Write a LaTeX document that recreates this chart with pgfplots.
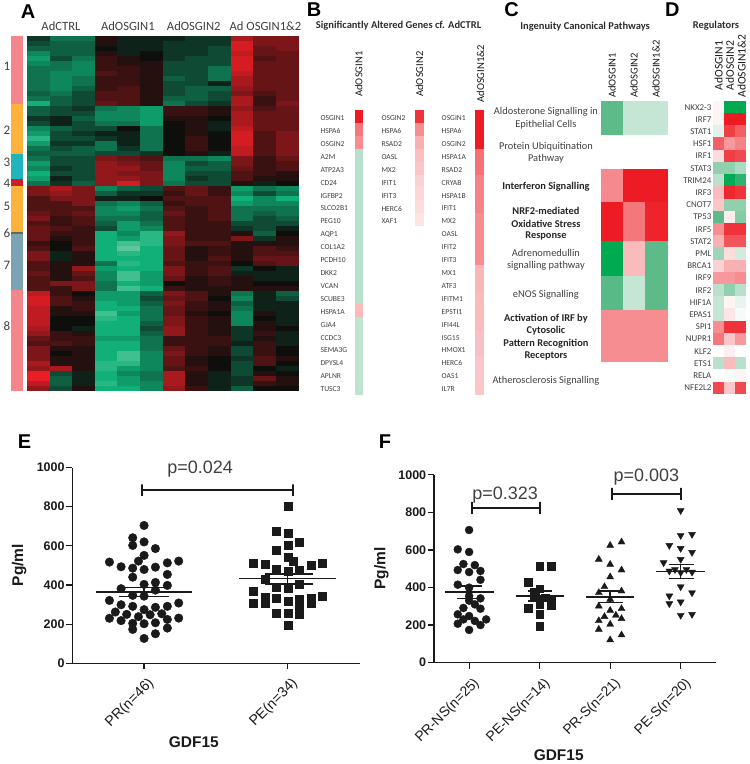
\documentclass[border=0pt]{standalone}
\usepackage{pgfplots}
\usepackage{pgfplotstable}
\usepackage{fontspec}
\pgfplotsset{compat=1.18}
\setmainfont{Carlito}
\newfontfamily\lib{Liberation Sans}
\newcommand{\fs}[1]{\fontsize{#1}{#1}\selectfont}
\definecolor{gtxt}{HTML}{404040}
\definecolor{axc}{HTML}{1A1A1A}
\pgfplotsset{
  colormap={rg}{rgb255(0pt)=(90,200,155); rgb255(3pt)=(16,176,120); rgb255(11pt)=(14,14,12); rgb255(21pt)=(235,30,38)},
  colormap={gwr}{rgb255(0pt)=(0,170,80); rgb255(8pt)=(93,187,138); rgb255(16pt)=(197,229,213); rgb255(20pt)=(255,255,255); rgb255(40pt)=(237,28,36)},
  heat/.style 2 args={only marks, scatter, point meta=explicit, mark=square*, mark size=1pt,
     scatter/use mapped color={draw opacity=0, fill=mapped color},
     mark options={xscale=#1,yscale=#2,line width=0pt}, forget plot},
  panel/.style={scale only axis, hide axis, y dir=reverse, clip=false},
  gr/.style={scale only axis, clip=false, axis x line=bottom, axis y line=left,
     axis line style={-, color=axc, line width=1.4pt}, tick style={color=axc, line width=1.2pt},
     major tick length=6pt, ymin=0, ymax=1000, ytick={0,200,400,600,800,1000},
     tick align=outside, xtick pos=bottom, ytick pos=left,
     /pgf/number format/assume math mode=true, /pgf/number format/1000 sep={},
     yticklabel style={font=\lib\bfseries\fs{12.5}, color=axc, inner sep=1.5pt},
     xticklabel style={font=\lib\fs{14.3}, color=axc, rotate=45, anchor=north east, inner sep=1pt, xshift=-2pt, yshift=-6pt},
     label style={font=\lib\bfseries\fs{15.5}, color=axc}},
  lin/.style={color=axc, line width=1.4pt, forget plot, no marks},
  brk/.style={color=axc, line width=1.8pt, forget plot, no marks},
}
\pgfplotstableread{
r c0 c1 c2 c3 c4 c5 c6 c7 c8 c9 c10 c11
1 -2 -5 -5 1 -1 -1 -1 -2 -2 7 5 5
2 -3 -4 -4 1 -1 -1 -2 -2 -2 9 5 5
3 -4 -4 -4 0 -1 -1 -2 -2 -3 9 4 5
4 -6 -4 -4 1 -1 0 -2 -2 -3 8 4 4
5 -7 -3 -5 2 1 0 -2 -3 -3 9 3 4
6 -6 -5 -6 2 1 1 -3 -3 -3 9 4 4
7 -5 -5 -6 2 2 1 -3 -3 -5 9 4 4
8 -5 -6 -6 3 2 1 -3 -3 -5 8 4 4
9 -5 -6 -5 2 2 1 -4 -3 -5 7 4 4
10 -5 -6 -5 2 2 1 -3 -3 -1 7 4 4
11 -5 -6 -4 2 3 1 -3 -4 -4 6 4 4
12 -4 -5 -3 3 3 1 -3 -4 -3 5 3 4
13 -5 -4 -3 3 3 1 -4 -4 -3 7 2 4
14 -8 -4 -3 4 3 1 -5 -3 -2 7 2 5
15 -4 -3 -2 -5 -6 -7 2 2 1 6 3 4
16 -4 -3 -3 -6 -6 -7 2 2 1 7 4 4
17 -2 -1 -4 -6 -6 -7 1 1 0 7 4 4
18 -3 -1 -3 -5 -5 -7 0 1 -1 7 4 4
19 -6 -4 -3 -3 0 -5 0 1 -1 8 4 4
20 -7 -3 -2 -1 -1 -5 0 1 0 9 3 5
21 -9 -3 -3 -2 -1 -5 0 2 0 9 3 5
22 -7 -2 -2 -5 -1 -5 0 2 0 9 3 5
23 -5 -3 -4 -5 -2 -5 0 2 0 8 3 5
24 -4 -4 -4 -3 -3 -2 0 1 -1 8 3 5
25 -5 -3 -3 5 4 3 -5 -5 -6 5 2 4
26 -7 -3 -3 6 5 4 -6 -3 -4 5 2 3
27 -6 -2 -3 6 6 4 -6 -4 -4 4 2 3
28 -8 -3 -3 6 5 5 -6 -3 -3 3 2 1
29 -7 -1 -3 6 6 5 -6 -2 -3 3 1 1
30 -5 -2 -4 6 9 5 -5 -3 -3 1 -1 0
31 5 7 5 -6 -4 -3 3 4 2 -7 -5 -6
32 5 6 5 -4 -2 -2 2 4 2 -6 -3 -5
33 3 5 5 -1 -1 0 3 3 3 -8 -6 -8
34 3 3 5 -5 -6 -4 2 3 3 -7 -6 -6
35 3 3 3 -6 -7 -5 3 2 3 -5 -5 -5
36 4 3 4 -6 -6 -4 4 2 3 -5 -4 -5
37 5 2 3 -5 -5 -4 3 2 3 -5 -3 -4
38 3 2 3 -4 -7 -5 3 2 2 -3 -3 -3
39 4 3 2 -3 -7 -6 3 2 2 -2 -3 -1
40 4 2 2 -8 -6 -9 6 2 2 1 -4 0
41 4 1 2 -8 -7 -9 5 2 2 5 -2 1
42 2 0 2 -8 -10 -9 5 3 3 1 1 1
43 3 0 3 -8 -11 -8 4 1 2 1 3 2
44 5 -1 1 -8 -9 -8 4 1 2 1 3 3
45 5 -1 1 -8 -8 -8 4 1 3 1 4 4
46 3 1 1 -5 -9 -8 3 2 2 0 3 4
47 3 1 6 -7 -8 -8 5 2 3 -2 0 -1
48 4 1 4 -6 -10 -7 5 2 3 -1 -1 -1
49 3 1 3 -6 -10 -7 4 1 2 1 -1 -1
50 3 5 5 -5 -8 -7 0 1 2 1 0 0
51 3 2 5 -5 -10 -8 2 1 1 1 1 1
52 8 2 0 -7 -7 -4 5 3 1 -5 -1 -4
53 9 3 1 -7 -7 -3 4 3 0 -6 -1 -3
54 9 3 2 -8 -7 -4 5 2 1 -4 -1 -1
55 8 1 2 -8 -8 -5 4 2 1 -5 -1 -1
56 8 1 1 -10 -7 -5 4 1 0 -6 1 -1
57 8 0 0 -9 -8 -5 5 2 1 -6 0 -1
58 8 0 0 -8 -8 -4 5 2 1 -6 1 -1
59 7 0 -1 -8 -8 -3 6 2 1 -2 1 0
60 6 2 1 -8 -8 -4 6 2 1 -2 2 -1
61 4 2 2 -7 -7 -5 2 2 2 -2 1 -1
62 3 3 2 -8 -8 -5 2 2 2 -1 2 -1
63 5 1 1 -8 -8 -5 4 2 1 -3 2 0
64 5 0 1 -8 -10 -6 5 2 1 -3 2 0
65 5 1 1 -8 -10 -6 4 1 0 -2 3 1
66 7 1 1 -9 -9 -6 4 1 0 -3 3 0
67 6 7 1 -9 -7 -6 3 2 0 -3 0 -1
68 10 -3 -1 -8 -6 -5 7 1 -1 -3 1 0
69 10 -4 -1 -8 -7 -5 7 1 -1 -2 4 1
70 8 -4 -1 -9 -7 -6 7 1 -1 -2 2 1
71 6 -3 1 -8 -8 -6 6 2 -1 -4 0 0
}\tableA
\pgfplotstableread{
r a b c
1 1.0 0.9 1.0
2 0.6 0.5 1.0
3 0.5 0.35 1.0
4 -0.25 0.28 0.62
5 -0.25 0.25 0.62
6 -0.25 0.2 0.55
7 -0.25 0.18 0.55
8 -0.25 0.15 0.55
9 -0.25 0.12 0.5
10 -0.25 0 0.5
11 -0.25 0 0.5
12 -0.25 0 0.5
13 -0.25 0 0.32
14 -0.25 0 0.32
15 -0.25 0 0.3
16 0.3 0 0.3
17 -0.22 0 0.3
18 -0.22 0 0.28
19 -0.22 0 0.28
20 -0.22 0 0.25
21 -0.22 0 0.25
22 -0.22 0 0.25
}\tableB
\pgfplotstableread{
r a b c
1 0.05 -1 -1
2 0.05 1 1
3 -0.1 0.85 0.7
4 0.7 0.45 0.55
5 0.15 0.85 0.8
6 -0.4 -0.4 -0.3
7 -0.25 -1 -0.8
8 0.3 0.95 0.9
9 0.25 -0.4 -0.4
10 -0.6 0.08 -0.45
11 0.5 0.9 0.9
12 0.35 0.75 0.75
13 -0.35 0.15 -0.15
14 0.2 0.35 0.35
15 0.45 0.45 0.5
16 -0.25 -0.4 -0.25
17 -0.2 0.05 -0.08
18 -0.2 0.12 -0.03
19 0.5 0.9 0.9
20 0.6 0.25 0.45
21 0 0.07 0
22 -0.25 0.3 -0.25
23 0 -0.02 0.05
24 0.8 0.25 0.8
}\tableD
\begin{document}
\begin{tikzpicture}[x=1pt,y=1pt,px/.style={yshift=764pt,y=-1pt}]
\path (0,0) rectangle (750,764);
\begin{scope}[px]
% Panel letters
\foreach \l/\px/\py in {A/28/12,B/314.5/10,C/512/10,D/673/10,E/24.5/442,F/385.5/442}
  \node[font=\lib\bfseries\fs{20},inner sep=0] at (\px,\py) {\l};
% cluster bar
\foreach \a/\b/\c in {36/104/F4858A,104/154/FDB33B,154/179/1FB5BB,179/186/C9202A,186/232/FDB33B,232/234/5F6B60,234/290/7CA3B3,290/391/F4858A}{
  \definecolor{tmpc}{HTML}{\c}
  \fill[tmpc] (11,\a) rectangle (23,\b);
}
\foreach \n/\py in {1/66.7,2/130,3/162.7,4/184,5/206.7,6/233,7/265.7,8/326.7}
  \node[font=\fs{13},color=gtxt,inner sep=0] at (7,\py) {\n};
\foreach \t/\px in {AdCTRL/61,AdOSGIN1/128,AdOSGIN2/194,Ad OSGIN1\&2/265.7}
  \node[font=\fs{12.6},color=gtxt,inner sep=0] at (\px,26) {\t};
\node[font=\bfseries\fs{10.5},color=gtxt!70!black,inner sep=0] at (399,26) {Significantly Altered Genes cf. AdCTRL};
\foreach \t/\px/\py in {AdOSGIN1/359/97,AdOSGIN2/420/97,AdOSGIN1\&2/481/103}
  \node[font=\fs{10.6},color=black!90,rotate=90,anchor=west,inner sep=0] at (\px,\py) {\t};
\foreach \g [count=\i from 0] in {OSGIN1,HSPA6,OSGIN2,A2M,ATP2A3,CD24,IGFBP2,SLCO2B1,PEG10,AQP1,COL1A2,PCDH10,DKK2,VCAN,SCUBE3,HSPA1A,GJA4,CCDC3,SEMA3G,DPYSL4,APLNR,TUSC3}
  \node[font=\fs{7.6},color=gtxt,anchor=west,inner sep=0] at (320.7,{118.3+12.92*\i}) {\g};
\foreach \g [count=\i from 0] in {OSGIN2,HSPA6,RSAD2,OASL,MX2,IFIT1,IFIT3,HERC6,XAF1}
  \node[font=\fs{7.6},color=gtxt,anchor=west,inner sep=0] at (381.7,{118.3+12.92*\i}) {\g};
\foreach \g [count=\i from 0] in {OSGIN1,HSPA6,OSGIN2,HSPA1A,RSAD2,CRYAB,HSPA1B,IFIT1,MX2,OASL,IFIT2,IFIT3,MX1,ATF3,IFITM1,EPSTI1,IFI44L,ISG15,HMOX1,HERC6,OAS1,IL7R}
  \node[font=\fs{7.6},color=gtxt,anchor=west,inner sep=0] at (442,{118.3+12.92*\i}) {\g};
\node[font=\bfseries\fs{10.5},color=gtxt!70!black,inner sep=0] at (585.7,27) {Ingenuity Canonical Pathways};
\foreach \t/\px/\py in {AdOSGIN1/612.7/98.3,AdOSGIN2/634.7/98.3,AdOSGIN1\&2/656.7/98.3}
  \node[font=\fs{10.6},color=black!90,rotate=90,anchor=west,inner sep=0] at (\px,\py) {\t};
\foreach \t/\py in {Aldosterone Signalling in/112.3,Epithelial Cells/124.7,Protein Ubiquitination/147,Pathway/159.3,Adrenomedullin/253.7,signalling pathway/266,eNOS Signalling/294.7,Atherosclerosis Signalling/381}
  \node[font=\fs{10.4},color=gtxt,inner sep=0] at (546.5,\py) {\t};
\foreach \t/\py in {Interferon Signalling/187.3,NRF2-mediated/211,Oxidative Stress/223.7,Response/236,Activation of IRF by/319,Cytosolic/331.3,Pattern Recognition/343.7,Receptors/356.3}
  \node[font=\bfseries\fs{10.4},color=black!85,inner sep=0] at (546.5,\py) {\t};
\node[font=\bfseries\fs{10.5},color=gtxt!70!black,inner sep=0] at (716.7,26) {Regulators};
\foreach \t/\px/\py in {AdOSGIN1/719.3/90.7,AdOSGIN2/730.7/90.7,AdOSGIN1\&2/742.3/98}
  \node[font=\fs{11.6},color=black!90,rotate=90,anchor=west,inner sep=0] at (\px,\py) {\t};
\foreach \g [count=\i from 0] in {NKX2-3,IRF7,STAT1,HSF1,IRF1,STAT3,TRIM24,IRF3,CNOT7,TP53,IRF5,STAT2,PML,BRCA1,IRF9,IRF2,HIF1A,EPAS1,SPI1,NUPR1,KLF2,ETS1,RELA,NFE2L2}
  \node[font=\fs{8.9},color=gtxt,anchor=east,inner sep=0] at (712.3,{107.3+12.217*\i}) {\g};
\end{scope}
% Panel A
\begin{axis}[panel, at={(27pt,728pt)}, anchor=north west, width=272pt, height=355pt,
  xmin=-0.5, xmax=11.5, ymin=0.5, ymax=71.5, colormap name=rg, point meta min=-11, point meta max=10]
\pgfplotsinvokeforeach{0,1,2,3,4,5,6,7,8,9,10,11}{
  \addplot[heat={11.38}{2.55}] table[x expr=#1, y=r, meta=c#1]{\tableA};
}
\addplot[color=black!20, line width=0.9pt, forget plot] coordinates {(2.5,0.5)(2.5,71.5)};
\addplot[color=black!20, line width=0.9pt, forget plot] coordinates {(5.5,0.5)(5.5,71.5)};
\addplot[color=black!20, line width=0.9pt, forget plot] coordinates {(8.5,0.5)(8.5,71.5)};
\end{axis}
% Panel B
\begin{axis}[panel, at={(355pt,654pt)}, anchor=north west, width=129.3pt, height=285pt,
  xmin=355, xmax=484.3, ymin=0.5, ymax=22.5, colormap name=gwr, point meta min=-1, point meta max=1]
\addplot[heat={4.3}{6.55}] table[x expr=359.2, y=r, meta=a]{\tableB};
\addplot[heat={4.3}{6.55}] table[x expr=419.7, y=r, meta=b]{\tableB};
\addplot[heat={4.3}{6.55}] table[x expr=480, y=r, meta=c]{\tableB};
\end{axis}
% Panel C
\begin{axis}[panel, at={(601.7pt,663pt)}, anchor=north west, width=66pt, height=295.7pt,
  xmin=0, xmax=3, ymin=101, ymax=396.7, colormap name=gwr, point meta min=-1, point meta max=1]
\addplot[surf, shader=flat corner, mesh/cols=4, point meta=explicit, forget plot] table[meta=m]{
x y m
0 101 -0.6
1 101 -0.2
2 101 -0.2
3 101 -0.2
0 135 0
1 135 0
2 135 0
3 135 0
0 169.3 0.52
1 169.3 1
2 169.3 1
3 169.3 1
0 202.7 1
1 202.7 0.6
2 202.7 0.97
3 202.7 0.97
0 241.7 -1
1 241.7 0.3
2 241.7 -0.6
3 241.7 -0.6
0 276.7 -0.62
1 276.7 -0.2
2 276.7 -0.6
3 276.7 -0.6
0 311 0.5
1 311 0.5
2 311 0.5
3 311 0.5
0 362.7 0
1 362.7 0
2 362.7 0
3 362.7 0
0 396.7 0
1 396.7 0
2 396.7 0
3 396.7 0
};
\end{axis}
% Panel D
\begin{axis}[panel, at={(713.7pt,663pt)}, anchor=north west, width=33.3pt, height=293.3pt,
  xmin=0, xmax=3, ymin=0.5, ymax=24.5, colormap name=gwr, point meta min=-1, point meta max=1]
\addplot[heat={5.6}{6.16}] table[x expr=0.5, y=r, meta=a]{\tableD};
\addplot[heat={5.6}{6.16}] table[x expr=1.5, y=r, meta=b]{\tableD};
\addplot[heat={5.6}{6.16}] table[x expr=2.5, y=r, meta=c]{\tableD};
\end{axis}
% Panel E
\begin{axis}[gr, at={(72.3pt,100pt)}, anchor=south west, width=287.7pt, height=196pt,
  xmin=0.5, xmax=2.5, xtick={1,2}, xticklabels={PR(n=46),PE(n=34)},
  xlabel={GDF15}, ylabel={Pg/ml},
  xlabel style={at={(axis description cs:0.423,-0.4015)},anchor=center},
  ylabel style={at={(axis description cs:-0.185,0.5015)},anchor=center}]
\addplot[only marks, mark=*, mark size=4.3pt, color=axc, forget plot] coordinates {
(1,704)(0.921,641)(1,620)(0.921,602)(1.079,586)(1,551)(0.759,517)(1.241,522)(0.84,493)(0.921,486)
(0.961,522)(1.162,513)(1.079,491)(1,479)(1.162,454)(0.921,440)(1,403)(1.079,413)(1.162,398)(0.84,381)
(0.921,347)(1,343)(1.079,374)(0.759,321)(0.84,299)(1.241,308)(0.921,291)(1.079,286)(1.162,291)(1,274)
(0.8,262)(0.879,250)(1.123,253)(0.961,238)(1.042,248)(0.759,230)(1.241,231)(0.84,218)(1.162,224)(0.921,204)
(1,202)(1.079,207)(0.921,173)(1.162,180)(1.079,151)(1,127)};
\addplot[only marks, mark=square*, mark size=4pt, color=axc, forget plot] coordinates {
(2,804)(1.921,677)(2,666)(2.081,617)(2,605)(1.921,580)(2,544)(2.039,524)(1.761,510)(1.84,505)
(2.241,510)(2.16,500)(1.921,479)(2,468)(2.081,476)(1.84,428)(1.921,391)(2,386)(2.081,406)(1.761,369)
(1.84,338)(2.241,345)(1.921,331)(2.16,335)(1.84,306)(1.761,309)(2,316)(2.081,326)(2.16,306)(2.081,284)
(1.921,258)(2,255)(2.081,250)(2,194)};
\addplot[lin] coordinates {(0.666,365)(1.336,365)};
\addplot[lin] coordinates {(0.828,386)(1.17,386)};
\addplot[lin] coordinates {(0.828,342)(1.17,342)};
\addplot[lin] coordinates {(1,342)(1,386)};
\addplot[lin] coordinates {(1.664,432)(2.336,432)};
\addplot[lin] coordinates {(1.842,457)(2.174,457)};
\addplot[lin] coordinates {(1.842,406)(2.174,406)};
\addplot[lin] coordinates {(2,406)(2,457)};
\addplot[brk] coordinates {(0.984,854)(0.984,914)(0.984,884)(2.035,884)(2.035,914)(2.035,854)};
\node[font=\lib\fs{18},color=gtxt,inner sep=0] at (axis cs:1.39,990) {p=0.024};
\end{axis}
% Panel F
\begin{axis}[gr, at={(434.3pt,100.7pt)}, anchor=south west, width=282.4pt, height=188pt,
  xmin=0.5, xmax=4.5, xtick={1,2,3,4}, xticklabels={PR-NS(n=25),PE-NS(n=14),PR-S(n=21),PE-S(n=20)},
  xticklabel style={font=\lib\fs{13.9}, yshift=-1pt},
  xlabel={GDF15}, ylabel={Pg/ml},
  xlabel style={at={(axis description cs:0.4426,-0.493)},anchor=center},
  ylabel style={at={(axis description cs:-0.186,0.5016)},anchor=center}]
\addplot[only marks, mark=*, mark size=4pt, color=axc, forget plot] coordinates {
(1,706)(0.839,603)(1,589)(0.919,525)(1.081,519)(0.839,493)(1,482)(1.161,488)(1.161,441)(0.839,415)
(1,399)(1.161,342)(1,330)(1,355)(0.919,291)(1.161,287)(1.081,310)(0.839,257)(1,248)(1.242,230)
(0.919,230)(1.081,222)(0.839,207)(1.161,200)(1,174)};
\addplot[only marks, mark=square*, mark size=3.8pt, color=axc, forget plot] coordinates {
(2,512)(2.161,512)(1.839,429)(2,394)(1.919,376)(2.081,346)(1.919,346)(2,337)(2.161,337)(1.839,291)
(2,310)(2.161,305)(2,257)(2,195)};
\addplot[only marks, mark=triangle*, mark size=4pt, color=axc, forget plot] coordinates {
(3.161,642)(3,624)(2.839,550)(3,523)(3.161,493)(3,456)(2.919,404)(2.839,372)(3.161,381)(3,337)
(2.839,301)(3.161,287)(3,278)(2.919,245)(3.081,252)(2.839,223)(3.161,234)(3,204)(2.839,177)(3.161,147)(3,121)};
\addplot[only marks, mark=triangle*, mark size=4pt, mark options={rotate=180}, color=axc, forget plot] coordinates {
(4,810)(4,677)(4.161,683)(3.839,624)(4,608)(4.161,587)(3.758,532)(4,550)(3.919,496)(4.081,496)
(4.161,482)(3.839,488)(4,479)(4,404)(3.839,355)(4.161,372)(3.839,314)(4,323)(4,252)(4.161,257)};
\addplot[lin] coordinates {(0.659,376)(1.346,376)};
\addplot[lin] coordinates {(0.825,408)(1.185,408)};
\addplot[lin] coordinates {(0.825,342)(1.185,342)};
\addplot[lin] coordinates {(1,342)(1,408)};
\addplot[lin] coordinates {(1.668,355)(2.346,355)};
\addplot[lin] coordinates {(1.83,381)(2.18,381)};
\addplot[lin] coordinates {(1.83,328)(2.18,328)};
\addplot[lin] coordinates {(2,328)(2,381)};
\addplot[lin] coordinates {(2.659,349)(3.344,349)};
\addplot[lin] coordinates {(2.825,381)(3.18,381)};
\addplot[lin] coordinates {(2.825,319)(3.18,319)};
\addplot[lin] coordinates {(3,319)(3,381)};
\addplot[lin] coordinates {(3.654,486)(4.346,486)};
\addplot[lin] coordinates {(3.83,523)(4.185,523)};
\addplot[lin] coordinates {(3.83,449)(4.185,449)};
\addplot[lin] coordinates {(4,449)(4,523)};
\addplot[brk] coordinates {(1.038,790)(1.038,856)(1.038,823)(2.005,823)(2.005,856)(2.005,790)};
\addplot[brk] coordinates {(3.028,864)(3.028,930)(3.028,897)(4,897)(4,930)(4,864)};
\node[font=\lib\fs{18},color=gtxt,inner sep=0] at (axis cs:1.511,891) {p=0.323};
\node[font=\lib\fs{18},color=gtxt,inner sep=0] at (axis cs:3.514,987) {p=0.003};
\end{axis}
\end{tikzpicture}
\end{document}
